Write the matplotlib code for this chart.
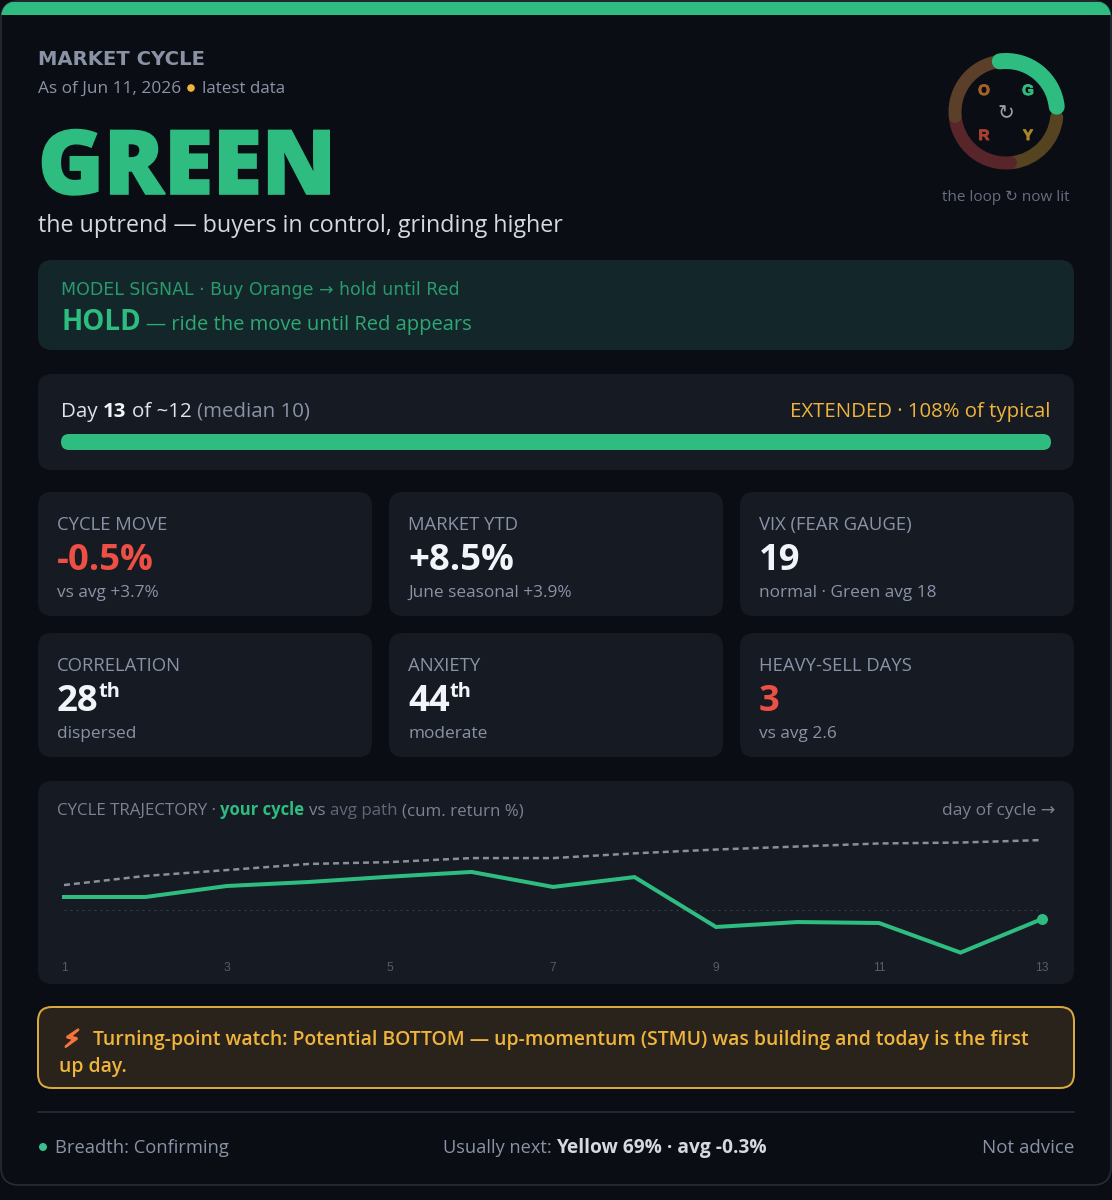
import matplotlib
matplotlib.use('Agg')
import matplotlib.pyplot as plt
from matplotlib.patches import FancyBboxPatch, Arc, Circle
import matplotlib.patheffects as pe

# colours
BG = '#0a0d14'
PANEL = '#151a23'
GREEN = '#2fbc80'
AMBER = '#efb43c'
RED = '#ee4f45'
WHITE = '#f1f4f8'
GRAY = '#8a92a6'
DIM = '#5f6675'

FONT = ['Open Sans', 'DejaVu Sans']

# chart data
days = [1, 2, 3, 4, 5, 6, 7, 8, 9, 10, 11, 12, 13]
cycle_path = [0.70, 0.70, 1.28, 1.49, 1.77, 2.02, 1.23, 1.75, -0.88, -0.62, -0.67, -2.23, -0.46]
avg_path = [1.33, 1.81, 2.12, 2.44, 2.54, 2.75, 2.75, 3.00, 3.20, 3.36, 3.52, 3.57, 3.70]
day_ticks = [1, 3, 5, 7, 9, 11, 13]

# loop ring: phase, start angle, end angle, colour
ring_names = ['G', 'Y', 'R', 'O']
ring_start = [6, 278, 187, 98]
ring_end = [97, 354, 275, 185]
ring_colors = [GREEN, '#564420', '#57252a', '#5b3f28']
ring_letter_colors = [GREEN, '#a98529', '#a83f30', '#a5602a']

# stat cards
stat_labels = ['CYCLE MOVE', 'MARKET YTD', 'VIX (FEAR GAUGE)', 'CORRELATION', 'ANXIETY', 'HEAVY-SELL DAYS']
stat_values = ['-0.5%', '+8.5%', '19', '28', '44', '3']
stat_sups = ['', '', '', 'th', 'th', '']
stat_subs = ['vs avg +3.7%', 'June seasonal +3.9%', 'normal · Green avg 18', 'dispersed', 'moderate', 'vs avg 2.6']
stat_colors = [RED, WHITE, WHITE, WHITE, WHITE, RED]

fig = plt.figure(figsize=(11.12, 12), dpi=100, facecolor=BG)
ax = fig.add_axes([0, 0, 1, 1])
ax.set_xlim(0, 1112)
ax.set_ylim(1200, 0)
ax.axis('off')


def pt(px):
    return px * 0.72


def box(x0, y0, x1, y1, r, fc, ec='none', lw=0):
    p = FancyBboxPatch((x0 + r, y0 + r), x1 - x0 - 2 * r, y1 - y0 - 2 * r,
                       boxstyle='round,pad=%s,rounding_size=%s' % (r, r),
                       fc=fc, ec=ec, lw=lw)
    ax.add_patch(p)
    return p


def txt(x, y, s, px, color, weight='normal', ha='left', family=FONT):
    return ax.text(x, y, s, fontsize=pt(px), color=color, weight=weight, ha=ha,
                   va='baseline', family=family)


def text_w(s, px, weight, family=FONT):
    # width including any spaces at the ends
    r = fig.canvas.get_renderer()
    a = ax.text(0, 0, '|' + s + '|', fontsize=pt(px), weight=weight, family=family)
    b = ax.text(0, 0, '||', fontsize=pt(px), weight=weight, family=family)
    w = a.get_window_extent(r).width - b.get_window_extent(r).width
    a.remove()
    b.remove()
    return w


def runs(x, y, parts, ha='left'):
    # parts: text, px, colour, weight
    if ha == 'center':
        x -= sum(text_w(p[0], p[1], p[3]) for p in parts) / 2
    for s, px, color, weight in parts:
        lead = len(s) - len(s.lstrip())
        txt(x + (text_w(s[:lead], px, weight) if lead else 0), y, s.strip(), px, color, weight)
        x += text_w(s, px, weight)
    return x


# card and top bar
card = box(1, 1, 1111, 1185, 18, BG, ec='#262c38', lw=1.2)
bar = ax.fill_between([0, 1112], 2, 15, color=GREEN, lw=0)
bar.set_clip_path(card)

# header
txt(38, 65, 'MARKET CYCLE', 19.6, GRAY, 'bold', family=['DejaVu Sans'])
runs(38, 93, [('As of Jun 11, 2026', 17.3, GRAY, 'normal')])
ax.add_patch(Circle((191, 88), 3.8, fc=AMBER, ec='none'))
txt(202, 93, 'latest data', 17, GRAY)
big = txt(38, 194, 'GREEN', 89, GREEN, 'black', family=['Open Sans'])
big.set_path_effects([pe.withStroke(linewidth=1.2, foreground=GREEN, joinstyle='miter')])
txt(38, 232, 'the uptrend — buyers in control, grinding higher', 23.3, '#d5d9e1')

# loop ring
ring = fig.add_axes([940 / 1112, 1 - 178 / 1200, 132 / 1112, 132 / 1200])
ring.set_xlim(-66, 66)
ring.set_ylim(-66, 66)
ring.axis('off')
for i in [1, 2, 3, 0]:
    ring.add_patch(Arc((0, 0), 102, 102, theta1=ring_start[i], theta2=ring_end[i],
                       color=ring_colors[i], lw=pt(16 if i == 0 else 13), capstyle='round'))
letter_pos = [(1028, 95), (1028, 140), (984, 140), (984, 95)]
for name, c, (lx, ly) in zip(ring_names, ring_letter_colors, letter_pos):
    t = txt(lx, ly, name, 15, c, 'bold', ha='center', family=['Liberation Sans'])
    t.set_path_effects([pe.withStroke(linewidth=0.7, foreground=c)])
txt(1006, 119, '↻', 20, '#9aa0ad', ha='center', family=['DejaVu Sans'])
txt(1006, 201, 'the loop ↻ now lit', 15.2, '#676e7d', ha='center')

# model signal
box(38, 260, 1074, 350, 14, '#13262a')
txt(61, 295, 'MODEL SIGNAL · Buy Orange → hold until Red', 17.4, '#2a9a6c', family=['DejaVu Sans'])
runs(61, 330, [('HOLD', 27.7, GREEN, 'bold'), (' — ride the move until Red appears', 20.1, '#2fa874', 'normal')])

# day progress
box(38, 374, 1074, 470, 14, PANEL)
runs(61, 417, [('Day ', 20.5, '#e0e4ea', 'normal'), ('13', 20.5, WHITE, 'bold'),
               (' of ~12 ', 20.5, '#e0e4ea', 'normal'), ('(median 10)', 20.5, GRAY, 'normal')])
txt(1051, 417, 'EXTENDED · 108% of typical', 20.4, AMBER, ha='right')
box(61, 434, 1051, 450, 8, GREEN)

# stat cards
card_x = [38, 389, 740]
card_y = [492, 633]
for i in range(6):
    x0 = card_x[i % 3]
    y0 = card_y[i // 3]
    box(x0, y0, x0 + 334, y0 + 124, 14, PANEL)
    txt(x0 + 19, y0 + 38, stat_labels[i], 18.5, GRAY)
    x = runs(x0 + 19, y0 + 78, [(stat_values[i], 36.5, stat_colors[i], 'bold')])
    if stat_sups[i]:
        txt(x, y0 + 64, stat_sups[i], 20, stat_colors[i], 'bold')
    txt(x0 + 19, y0 + 105, stat_subs[i], 17.2, GRAY)

# trajectory panel
box(38, 781, 1074, 984, 14, PANEL)
runs(57, 815, [('CYCLE TRAJECTORY · ', 16.9, '#7b8291', 'normal'), ('your cycle', 16.6, GREEN, 'bold'),
               (' vs ', 16.9, '#7b8291', 'normal'), ('avg path', 16.9, DIM, 'normal'),
               (' (cum. return %)', 16.9, '#7b8291', 'normal')])
txt(1055, 815, 'day of cycle →', 17.4, '#7b8291', ha='right')

chart = fig.add_axes([64 / 1112, 1 - 960 / 1200, 978 / 1112, 130 / 1200])
chart.patch.set_alpha(0)
chart.set_xlim(1, 13)
chart.set_ylim(-2.62, 4.23)
chart.axhline(0, color='#3a404d', lw=pt(1), ls=(0, (2, 4)))
chart.plot(days, avg_path, color='#8a8f9c', lw=pt(2.5), ls=(0, (2.4, 1.6)))
chart.plot(days, cycle_path, color=GREEN, lw=pt(4), solid_joinstyle='miter', clip_on=False)
chart.plot(days[-1], cycle_path[-1], 'o', color=GREEN, ms=pt(11), mew=0, clip_on=False)
for s in chart.spines.values():
    s.set_visible(False)
chart.set_yticks([])
chart.set_xticks(day_ticks)
chart.set_xticklabels(day_ticks, family='Liberation Sans', fontsize=pt(12), color='#565c6a')
chart.tick_params(axis='x', length=0, pad=pt(2))

# turning point alert
box(38, 1007, 1074, 1088, 14, '#2a231b', ec='#d9a93e', lw=pt(2))
bolt = txt(72, 1047, '⚡', 24, '#f4743f', ha='center', family=['DejaVu Sans'])
bolt.set_path_effects([pe.withStroke(linewidth=1.5, foreground='#f4743f')])
txt(93, 1045, 'Turning-point watch: Potential BOTTOM — up-momentum (STMU) was building and today is the first',
    19.4, AMBER, 'semibold')
txt(59, 1072, 'up day.', 19.4, AMBER, 'semibold')

# footer
ax.plot([38, 1074], [1112, 1112], color='#2a3140', lw=pt(1.5))
ax.add_patch(Circle((43, 1147), 4, fc='#35c28c', ec='none'))
txt(55, 1153, 'Breadth: Confirming', 18.4, GRAY)
runs(605, 1153, [('Usually next: ', 18.3, GRAY, 'normal'), ('Yellow 69% · avg -0.3%', 19.1, '#d5d9e1', 'bold')], ha='center')
txt(1074, 1153, 'Not advice', 18.8, GRAY, ha='right')

fig.savefig('out.png', dpi=100, facecolor=BG)
